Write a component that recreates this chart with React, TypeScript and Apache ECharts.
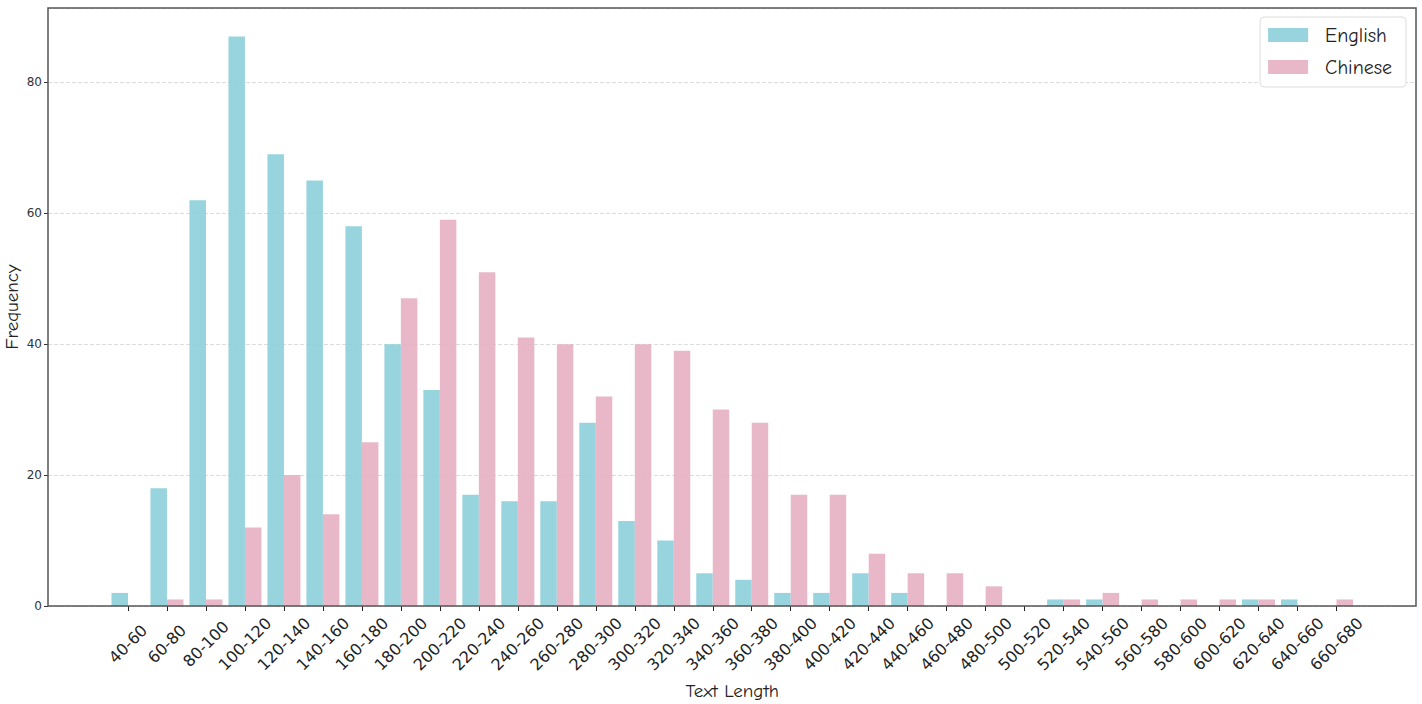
import React, { useEffect, useRef } from "react";
import * as echarts from "echarts";

const categories = [
  "40-60", "60-80", "80-100", "100-120", "120-140", "140-160", "160-180", "180-200",
  "200-220", "220-240", "240-260", "260-280", "280-300", "300-320", "320-340", "340-360",
  "360-380", "380-400", "400-420", "420-440", "440-460", "460-480", "480-500", "500-520",
  "520-540", "540-560", "560-580", "580-600", "600-620", "620-640", "640-660", "660-680",
];
const englishValues = [
  2, 18, 62, 87, 69, 65, 58, 40, 33, 17, 16, 16, 28, 13, 10, 5,
  4, 2, 2, 5, 2, 0, 0, 0, 1, 1, 0, 0, 0, 1, 1, 0,
];
const chineseValues = [
  0, 1, 1, 12, 20, 14, 25, 47, 59, 51, 41, 40, 32, 40, 39, 30,
  28, 17, 17, 8, 5, 5, 3, 0, 1, 2, 1, 1, 1, 1, 0, 1,
];
const yTicks = [0, 20, 40, 60, 80];
const yMax = 91.35;

const TICK_FONT = "'DejaVu Sans', sans-serif";
const HAND_FONT = "'Comic Sans MS', 'Comic Neue', 'Noto Sans', sans-serif";

export default function App() {
  const ref = useRef<HTMLDivElement>(null);
  useEffect(() => {
    if (!ref.current) return;
    const chart = echarts.init(ref.current, undefined, { renderer: "svg" });
    const gridTop = 8;
    const gridBottom = 98;
    chart.setOption({
      animation: false,
      backgroundColor: "#ffffff",
      grid: [
        {
          left: 48,
          right: 6,
          top: gridTop,
          bottom: gridBottom,
          show: true,
          borderColor: "#555555",
          borderWidth: 1.5,
          backgroundColor: "transparent",
          outerBoundsMode: "none",
          containLabel: false,
          z: 3,
        },
        {
          left: 108.5,
          right: 66,
          top: gridTop,
          bottom: gridBottom,
          outerBoundsMode: "none",
          containLabel: false,
        },
      ],
      legend: {
        right: 16,
        top: 17,
        orient: "vertical",
        itemWidth: 40,
        itemHeight: 14,
        itemGap: 12,
        padding: [8, 14, 10, 8],
        backgroundColor: "#ffffff",
        borderColor: "#dddddd",
        borderWidth: 1,
        borderRadius: 4,
        textStyle: { fontFamily: HAND_FONT, fontSize: 20, color: "#222", padding: [0, 0, 0, 12] },
        data: [
          { name: "English", icon: "rect" },
          { name: "Chinese", icon: "rect" },
        ],
      },
      xAxis: [
        {
          type: "value",
          gridIndex: 0,
          min: 0,
          max: 1,
          show: false,
        },
        {
          type: "category",
          gridIndex: 1,
          data: categories,
          name: "Text Length",
          nameLocation: "middle",
          nameGap: 75,
          nameMoveOverlap: false,
          nameTextStyle: { fontFamily: HAND_FONT, fontSize: 19, color: "#222" },
          axisLine: { show: false },
          axisTick: { show: true, alignWithLabel: true, length: 5, lineStyle: { color: "#222", width: 1 } },
          axisLabel: {
            interval: 0,
            rotate: 45,
            align: "center",
            verticalAlign: "middle",
            margin: 38,
            fontFamily: TICK_FONT,
            fontSize: 16,
            color: "#222",
          },
          splitLine: { show: false },
        },
      ],
      yAxis: [
        {
          type: "value",
          gridIndex: 0,
          min: 0,
          max: yMax,
          interval: 20,
          name: "Frequency",
          nameLocation: "middle",
          nameGap: 27,
          nameMoveOverlap: false,
          nameTextStyle: { fontFamily: HAND_FONT, fontSize: 19, color: "#222" },
          axisLine: { show: false },
          axisTick: { show: true, length: 4, lineStyle: { color: "#333" } },
          axisLabel: {
            fontFamily: TICK_FONT,
            fontSize: 12,
            color: "#333",
            margin: 6,
            showMaxLabel: false,
            formatter: (v: number) => (yTicks.includes(v) ? String(v) : ""),
          },
          splitLine: { show: true, lineStyle: { color: "#dddddd", type: "dashed", width: 1 } },
        },
        {
          type: "value",
          gridIndex: 1,
          min: 0,
          max: yMax,
          show: false,
          splitLine: { show: false },
        },
      ],
      series: [
        {
          name: "English",
          type: "bar",
          xAxisIndex: 1,
          yAxisIndex: 1,
          data: englishValues,
          barWidth: 16.5,
          barGap: "0%",
          itemStyle: { color: "rgba(140, 207, 218, 0.9)" },
          z: 2,
        },
        {
          name: "Chinese",
          type: "bar",
          xAxisIndex: 1,
          yAxisIndex: 1,
          data: chineseValues,
          barWidth: 16.5,
          barGap: "0%",
          itemStyle: { color: "rgba(229, 176, 195, 0.9)" },
          z: 2,
        },
      ],
    });
    return () => chart.dispose();
  }, []);
  return (
    <div
      ref={ref}
      style={{ position: "fixed", left: 0, top: 0, width: 1422, height: 704, background: "#fff" }}
    />
  );
}
